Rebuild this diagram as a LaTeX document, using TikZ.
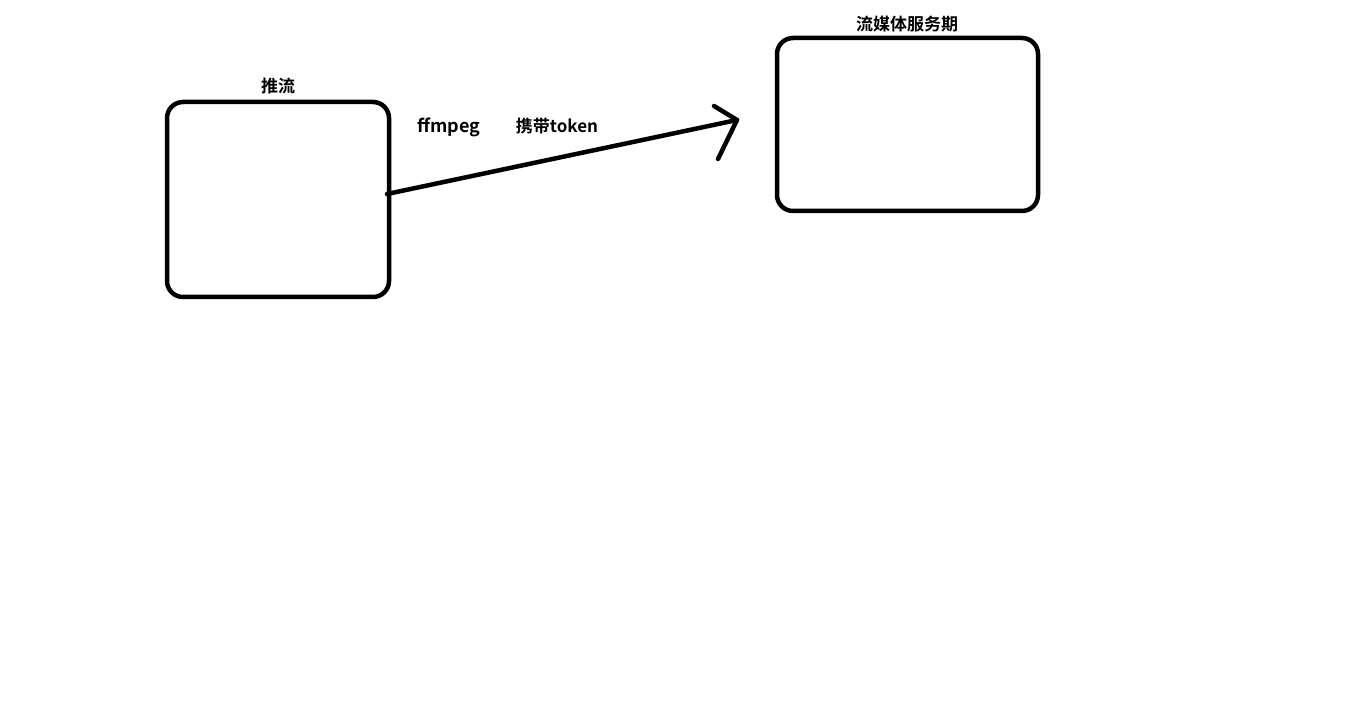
\documentclass[tikz,border=0pt]{standalone}
\usepackage{fontspec}
\newfontfamily\cjk{Noto Sans CJK SC}[BoldFont={Noto Sans CJK SC Bold}]
\begin{document}
\begin{tikzpicture}[x=1pt,y=-1pt,
  box/.style={draw=black,line width=4.5pt,rounded corners=16pt,inner sep=0pt},
  lbl/.style={font=\cjk\bfseries\fontsize{17}{19}\selectfont,inner sep=0pt},
  conn/.style={line width=4.5pt,line cap=round,line join=round}]
\useasboundingbox (0,0) rectangle (1355,711);
\node[box,minimum width=222pt,minimum height=195pt] (push) at (278,199.5) {};
\node[box,minimum width=261pt,minimum height=173pt] (server) at (907.5,124.5) {};
\node[lbl] (pushlbl) at (278,86) {推流};
\node[lbl] (serverlbl) at (907,24) {流媒体服务期};
\node[lbl,font=\cjk\bfseries\fontsize{18}{20}\selectfont] (ff) at (449,127) {ffmpeg};
\node[lbl] (tok) at (557,126) {携带token};
\coordinate (start) at (387,194);
\coordinate (tip) at (737,120);
\coordinate (arm1) at (714,106);
\coordinate (arm2) at (718,159);
\draw[conn] (start) -- (tip);
\draw[conn] (arm1) -- (tip) -- (arm2);
\end{tikzpicture}
\end{document}
